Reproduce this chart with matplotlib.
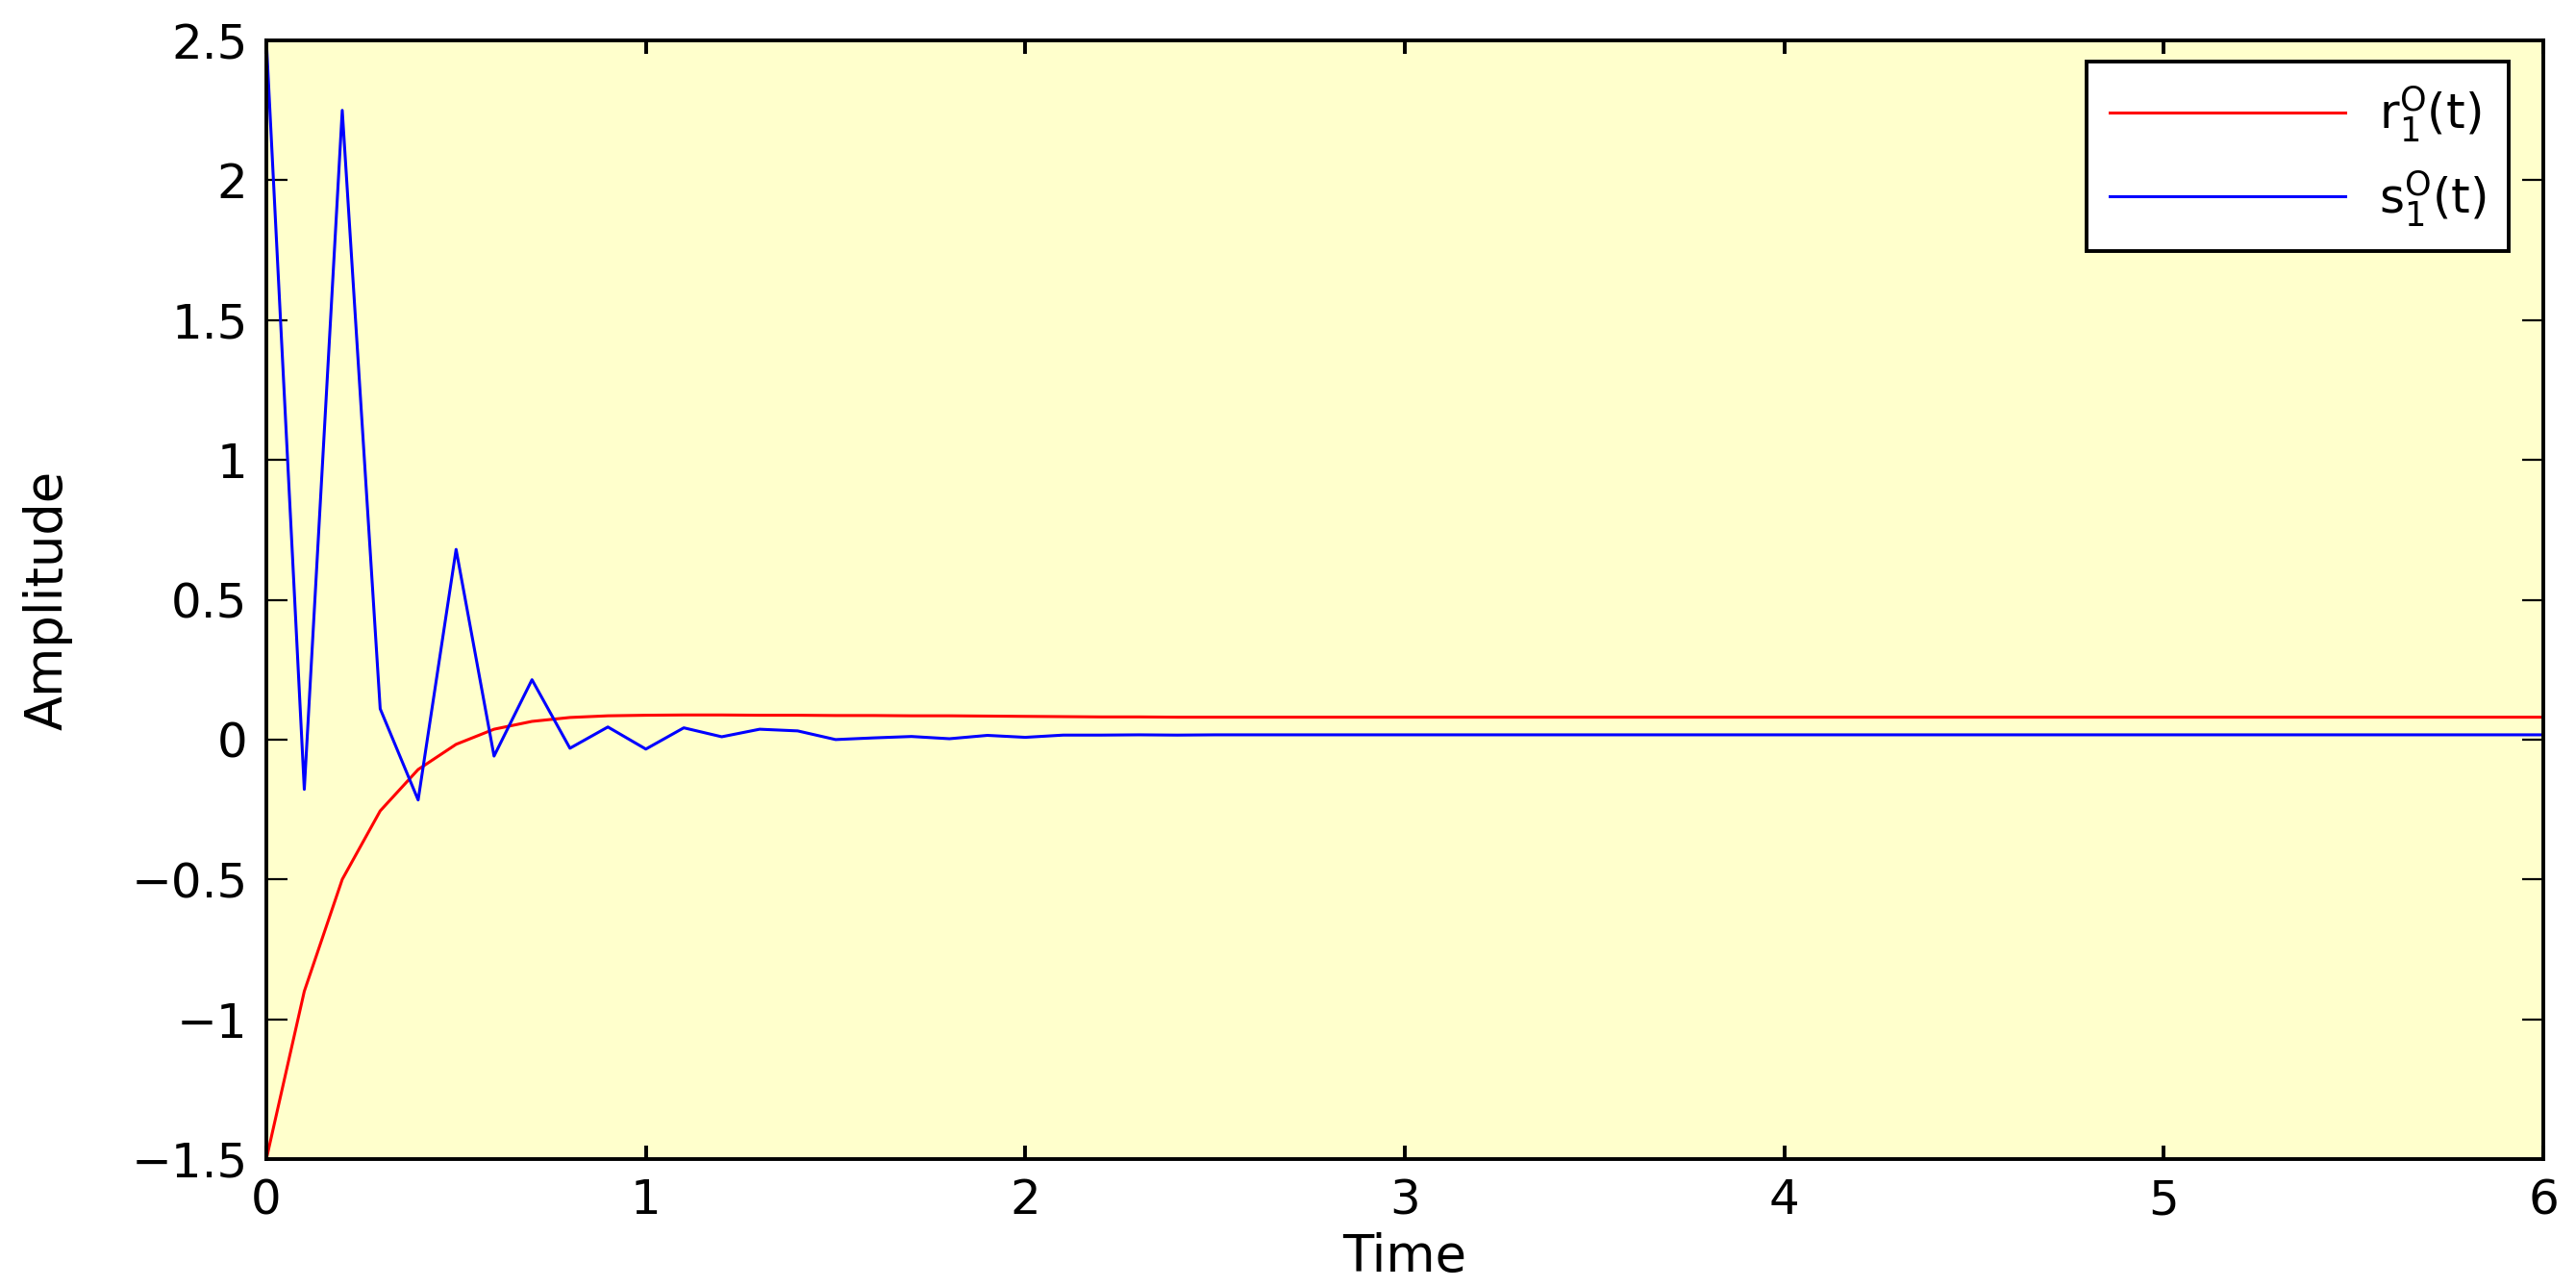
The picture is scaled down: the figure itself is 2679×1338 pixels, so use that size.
import matplotlib
matplotlib.use('Agg')
import matplotlib.pyplot as plt
import numpy as np

plt.rcParams['font.family'] = ['DejaVu Sans']
plt.rcParams['mathtext.fontset'] = 'dejavusans'

# sample times, step 0.1 from 0 to 6
t = np.round(np.arange(0, 61) * 0.1, 1)

# r1 response
r1 = [-1.5, -0.9, -0.5, -0.255, -0.107, -0.017, 0.037, 0.065, 0.079, 0.085,
      0.087, 0.088, 0.088, 0.087, 0.087, 0.086, 0.086, 0.085, 0.085, 0.084,
      0.083, 0.082, 0.081, 0.081, 0.080] + [0.080] * 36

# s1 response
s1 = [2.5, -0.178, 2.25, 0.11, -0.216, 0.68, -0.059, 0.214, -0.031, 0.045,
      -0.034, 0.042, 0.010, 0.037, 0.031, 0.0, 0.006, 0.011, 0.003, 0.015,
      0.008, 0.016, 0.016, 0.017, 0.016, 0.017] + [0.017] * 35

xticks = [0, 1, 2, 3, 4, 5, 6]
yticks = [-1.5, -1, -0.5, 0, 0.5, 1, 1.5, 2, 2.5]
ytick_labels = ['\u22121.5', '\u22121', '\u22120.5', '0', '0.5', '1', '1.5', '2', '2.5']

W, H = 2679, 1338
fig = plt.figure(figsize=(W / 200, H / 200), dpi=200)
ax = fig.add_axes([277 / W, 1 - 1205 / H, (2645 - 277) / W, (1205 - 42) / H])
ax.set_facecolor('#ffffcc')

ax.plot(t, r1, color='#ff0000', lw=1.1, label=r'$\mathregular{r_1^O(t)}$')
ax.plot(t, s1, color='#0000ff', lw=1.1, label=r'$\mathregular{s_1^O(t)}$')

ax.set_xlim(0, 6)
ax.set_ylim(-1.5, 2.5)
ax.set_xticks(xticks)
ax.set_xticklabels([str(v) for v in xticks])
ax.set_yticks(yticks)
ax.set_yticklabels(ytick_labels)
ax.tick_params(axis='x', direction='in', length=5, width=1.4, labelsize=18,
               top=True, pad=7)
ax.tick_params(axis='y', direction='in', length=8, width=0.8, labelsize=18,
               right=True, pad=7)
for s in ax.spines.values():
    s.set_linewidth(1.4)

ax.set_xlabel('Time', fontsize=19, labelpad=3)
ax.set_ylabel('Amplitude', fontsize=19, labelpad=22)

leg = ax.legend(loc='upper right', bbox_to_anchor=(0.9848, 0.981),
                borderaxespad=0, fontsize=18, handlelength=4.9,
                handletextpad=0.7, borderpad=0.47,
                fancybox=False, framealpha=1, edgecolor='black',
                labelspacing=0.5)
leg.get_frame().set_linewidth(1.4)

fig.savefig('out.png', dpi=200)
